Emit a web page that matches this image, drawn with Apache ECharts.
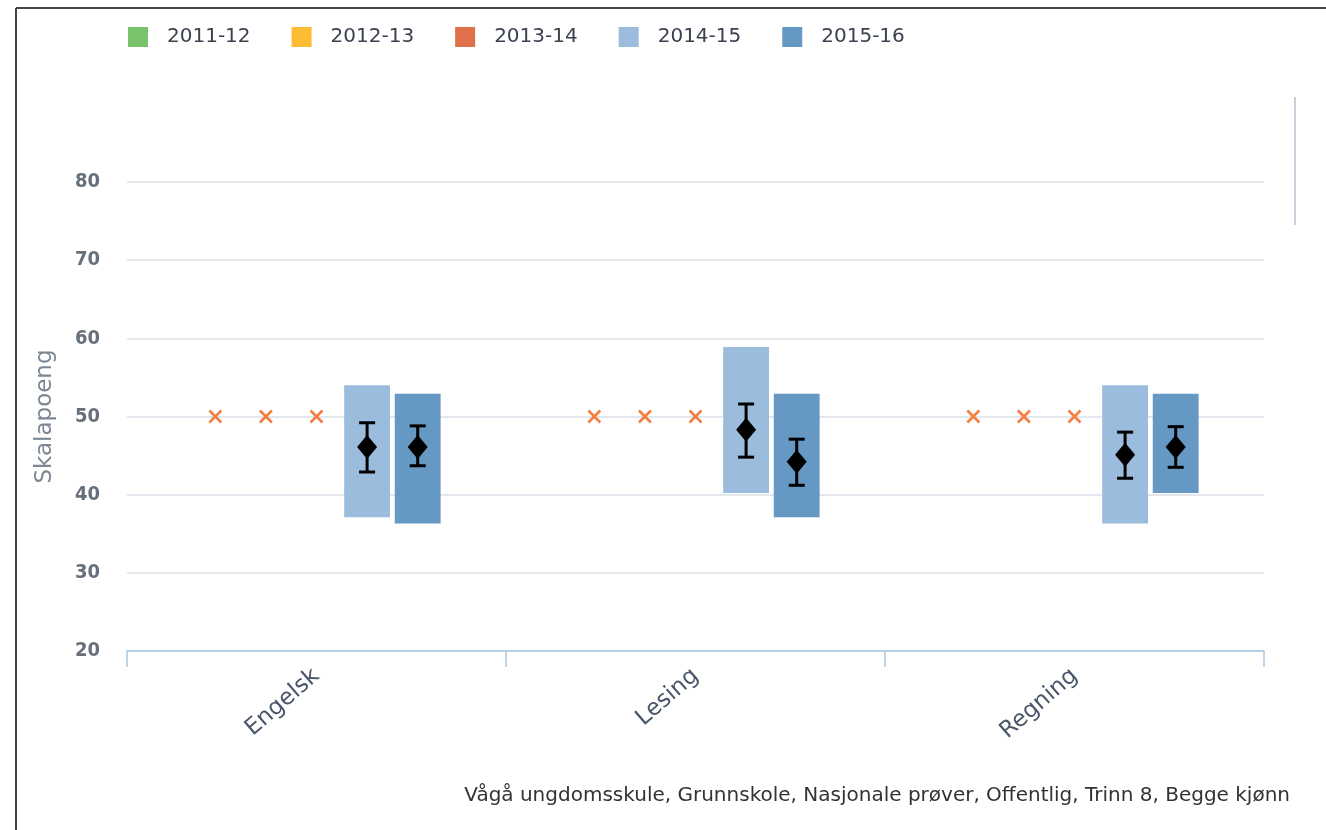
<!DOCTYPE html>
<html>
<head>
<meta charset="utf-8">
<script src="https://cdn.jsdelivr.net/npm/echarts@6/dist/echarts.min.js"></script>
<style>
  html, body { margin: 0; padding: 0; background: #fff; }
  #chart { width: 1326px; height: 830px; }
</style>
</head>
<body>
<div id="chart"></div>
<script>
// data
var categories = ['Engelsk', 'Lesing', 'Regning'];
var seasons = ['2011-12', '2012-13', '2013-14', '2014-15', '2015-16'];
var seasonColors = ['#78c36b', '#fcbc34', '#e0704a', '#9bbcdc', '#6698c4'];

// seasons without results are shown as a cross at 50
var noData = [50, 50, 50];

var low1415 = [37.1, 40.2, 36.3];
var high1415 = [54.0, 58.9, 54.0];
var mean1415 = [46.1, 48.3, 45.1];
var errLow1415 = [42.9, 44.8, 42.1];
var errHigh1415 = [49.2, 51.6, 48.0];

var low1516 = [36.3, 37.1, 40.2];
var high1516 = [52.9, 52.9, 52.9];
var mean1516 = [46.1, 44.2, 46.1];
var errLow1516 = [43.7, 41.2, 43.5];
var errHigh1516 = [48.8, 47.1, 48.7];

var footnote = 'Vågå ungdomsskule, Grunnskole, Nasjonale prøver, Offentlig, Trinn 8, Begge kjønn';

var chart = echarts.init(document.getElementById('chart'));

var SLOT = 0.1335;   // share of category band per season
var BAR = 0.121;     // bar width share of band

function slotX(api, cat, val, idx) {
    var c = api.coord([cat, val]);
    var band = api.size([1, 0])[0];
    return [c[0] + (idx - 2) * band * SLOT, c[1], band];
}

function crossRenderer(idx) {
    return function(params, api) {
        var p = slotX(api, api.value(0), api.value(1), idx);
        var s = 6;
        var st = { stroke: '#f47d3f', lineWidth: 2.5 };
        return {
            type : 'group',
            children : [
                { type : 'line', shape : { x1 : p[0] - s, y1 : p[1] - s, x2 : p[0] + s, y2 : p[1] + s }, style : st },
                { type : 'line', shape : { x1 : p[0] - s, y1 : p[1] + s, x2 : p[0] + s, y2 : p[1] - s }, style : st }
            ]
        };
    };
}

function rangeRenderer(idx, color) {
    return function(params, api) {
        var cat = api.value(0);
        var lo = slotX(api, cat, api.value(1), idx);
        var hi = slotX(api, cat, api.value(2), idx);
        var mn = slotX(api, cat, api.value(3), idx);
        var el = slotX(api, cat, api.value(4), idx);
        var eh = slotX(api, cat, api.value(5), idx);
        var x = lo[0];
        var w = lo[2] * BAR;
        var cap = 8;
        var line = { stroke : '#000', lineWidth : 3 };
        return {
            type : 'group',
            children : [
                { type : 'rect', shape : { x : x - w / 2, y : hi[1], width : w, height : lo[1] - hi[1] }, style : { fill : color } },
                { type : 'line', shape : { x1 : x, y1 : eh[1], x2 : x, y2 : el[1] }, style : line },
                { type : 'line', shape : { x1 : x - cap, y1 : eh[1], x2 : x + cap, y2 : eh[1] }, style : line },
                { type : 'line', shape : { x1 : x - cap, y1 : el[1], x2 : x + cap, y2 : el[1] }, style : line },
                { type : 'polygon', shape : { points : [[x, mn[1] - 12], [x + 10, mn[1]], [x, mn[1] + 12], [x - 10, mn[1]]] }, style : { fill : '#000' } }
            ]
        };
    };
}

var series = [];
for (var i = 0; i < 3; i++) {
    series.push({
        name : seasons[i],
        type : 'custom',
        renderItem : crossRenderer(i),
        itemStyle : { color : seasonColors[i] },
        encode : { x : 0, y : 1 },
        data : noData.map(function(v, k) { return [k, v]; })
    });
}
var ranges = [
    [low1415, high1415, mean1415, errLow1415, errHigh1415],
    [low1516, high1516, mean1516, errLow1516, errHigh1516]
];
ranges.forEach(function(r, j) {
    var idx = 3 + j;
    series.push({
        name : seasons[idx],
        type : 'custom',
        renderItem : rangeRenderer(idx, seasonColors[idx]),
        itemStyle : { color : seasonColors[idx] },
        encode : { x : 0, y : [1, 2] },
        data : categories.map(function(c, k) {
            return [k, r[0][k], r[1][k], r[2][k], r[3][k], r[4][k]];
        })
    });
});

var option = {
    backgroundColor : '#fff',
    animation : false,
    textStyle : { fontFamily : 'DejaVu Sans' },
    legend : {
        left : 123,
        top : 22,
        icon : 'rect',
        itemWidth : 20,
        itemHeight : 20,
        itemGap : 41,
        textStyle : {
            color : '#3a4250',
            fontSize : 20,
            fontFamily : 'DejaVu Sans',
            padding : [0, 0, 0, 14]
        },
        data : seasons
    },
    grid : {
        left : 127,
        right : 62,
        top : 182,
        bottom : 179
    },
    xAxis : {
        type : 'category',
        data : categories,
        axisLine : { lineStyle : { color : '#a9c6e2', width : 1.5 } },
        axisTick : { show : true, length : 16, lineStyle : { color : '#a9c6e2', width : 1.5 } },
        axisLabel : {
            rotate : 41,
            margin : 22,
            color : '#4a566a',
            fontSize : 23,
            fontFamily : 'DejaVu Sans'
        }
    },
    yAxis : {
        type : 'value',
        min : 20,
        max : 80,
        interval : 10,
        name : 'Skalapoeng',
        nameLocation : 'middle',
        nameGap : 70,
        nameTextStyle : { color : '#7d8794', fontSize : 23, fontFamily : 'DejaVu Sans' },
        axisLine : { show : false },
        axisTick : { show : false },
        axisLabel : { margin : 27, color : '#66707c', fontSize : 20, fontWeight : 'bold', fontFamily : 'DejaVu Sans Condensed' },
        splitLine : { lineStyle : { color : '#dae1e9', width : 1.5 } }
    },
    graphic : [
        { type : 'line', shape : { x1 : 16, y1 : 8, x2 : 1326, y2 : 8 }, style : { stroke : '#444', lineWidth : 2 } },
        { type : 'line', shape : { x1 : 16, y1 : 8, x2 : 16, y2 : 830 }, style : { stroke : '#444', lineWidth : 2 } },
        { type : 'line', shape : { x1 : 1295, y1 : 97, x2 : 1295, y2 : 225 }, style : { stroke : '#b5c2cf', lineWidth : 1.5 } },
        {
            type : 'text',
            right : 36,
            top : 786,
            style : {
                text : footnote,
                fill : '#333',
                fontSize : 20,
                fontFamily : 'DejaVu Sans'
            }
        }
    ],
    series : series
};
chart.setOption(option);

window.addEventListener('resize', function() {
    chart.resize()
})
</script>
</body>
</html>
